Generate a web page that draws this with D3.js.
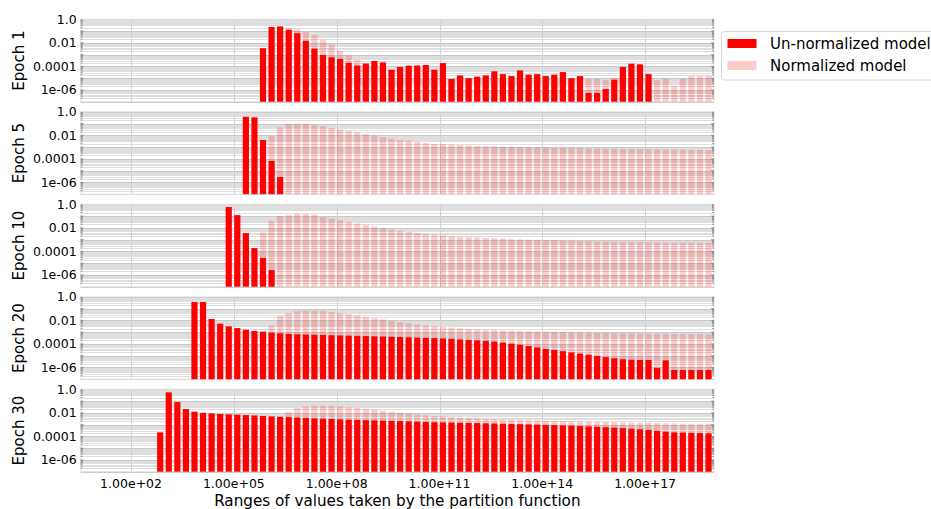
<!DOCTYPE html>
<html>
<head>
<meta charset="utf-8">
<script src="https://cdn.jsdelivr.net/npm/d3@7"></script>
<style>
  body { margin: 0; background: #fff; }
  text { font-family: "DejaVu Sans", sans-serif; fill: #000; }
</style>
</head>
<body>
<svg id="chart" width="931" height="509"></svg>
<script>
// Histogram bins: centre of bin k sits at 10^(binOrigin + k * binStep)
const binOrigin = 0.1;
const binStep = 0.25;

const panelLabels = ["Epoch 1", "Epoch 5", "Epoch 10", "Epoch 20", "Epoch 30"];
const seriesNames = ["Un-normalized model", "Normalized model"];
const xTickValues = [1e2, 1e5, 1e8, 1e11, 1e14, 1e17];
const yTickValues = [1, 1e-2, 1e-4, 1e-6];
const yTickLabels = ["1.0", "0.01", "0.0001", "1e-06"];

// first bin index of each series, per panel
const unnormStart = [23, 21, 19, 15, 11];
const normStart = [23, 24, 23, 24, 25];

// Un-normalized model: fraction of samples per bin
const unnormEpoch1 = [3.5e-3, 0.22, 0.25, 0.13, 0.065, 0.015, 3.2e-3, 9.3e-4, 5.9e-4, 4.3e-4,
  2.0e-4, 1.2e-4, 1.7e-4, 2.9e-4, 2.2e-4, 5.2e-5, 8.9e-5, 1.15e-4, 1.2e-4, 1.3e-4,
  5.2e-5, 1.9e-4, 8.5e-6, 1.7e-5, 1.0e-5, 1.35e-5, 1.7e-5, 3.8e-5, 2.2e-5, 1.5e-5,
  4.6e-5, 2.0e-5, 2.2e-5, 1.5e-5, 2.0e-5, 3.3e-5, 1.0e-5, 1.5e-5, 5.5e-7, 5.5e-7,
  1.2e-6, 7.4e-6, 8.9e-5, 1.7e-4, 1.5e-4, 2.2e-5];
const unnormEpoch5 = [0.38, 0.34, 4.0e-3, 6.6e-5, 2.9e-6];
const unnormEpoch10 = [0.59, 0.12, 3.6e-3, 1.9e-4, 2.8e-5, 2.6e-6];
const unnormEpoch20 = [0.36, 0.36, 0.013, 5.2e-3, 3.1e-3, 2.2e-3, 1.6e-3, 1.26e-3, 1.1e-3, 8.9e-4,
  7.9e-4, 6.9e-4, 6.5e-4, 6.2e-4, 6.0e-4, 5.7e-4, 5.4e-4, 5.2e-4, 5.0e-4, 4.8e-4,
  4.6e-4, 4.4e-4, 4.2e-4, 4.0e-4, 3.8e-4, 3.6e-4, 3.4e-4, 3.3e-4, 3.1e-4, 2.9e-4,
  2.7e-4, 2.4e-4, 2.2e-4, 2.0e-4, 1.8e-4, 1.6e-4, 1.3e-4, 1.05e-4, 8.5e-5, 6.5e-5,
  5.0e-5, 3.8e-5, 3.0e-5, 2.4e-5, 1.9e-5, 1.5e-5, 1.2e-5, 9.5e-6, 7.5e-6, 6.0e-6,
  5.0e-6, 4.5e-6, 4.3e-6, 4.3e-6, 9.0e-7, 4.0e-6, 6.0e-7, 6.0e-7, 6.0e-7, 6.0e-7, 6.0e-7];
const unnormEpoch30 = [2.2e-4, 0.55, 0.083, 0.021, 0.0126, 0.010, 9.0e-3, 8.0e-3, 7.5e-3, 7.0e-3,
  6.5e-3, 6.0e-3, 5.5e-3, 5.0e-3, 4.6e-3, 4.3e-3, 4.0e-3, 3.7e-3, 3.4e-3, 3.2e-3,
  3.0e-3, 2.8e-3, 2.6e-3, 2.5e-3, 2.4e-3, 2.3e-3, 2.2e-3, 2.1e-3, 2.0e-3, 1.9e-3,
  1.8e-3, 1.7e-3, 1.6e-3, 1.55e-3, 1.5e-3, 1.45e-3, 1.4e-3, 1.35e-3, 1.3e-3, 1.25e-3,
  1.2e-3, 1.15e-3, 1.1e-3, 1.05e-3, 1.0e-3, 9.5e-4, 9.0e-4, 8.5e-4, 8.0e-4, 7.5e-4,
  7.0e-4, 6.5e-4, 6.0e-4, 5.5e-4, 5.0e-4, 4.5e-4, 4.0e-4, 3.5e-4, 3.0e-4, 2.5e-4,
  2.2e-4, 2.1e-4, 2.0e-4, 1.9e-4, 1.8e-4];

// Normalized model: fraction of samples per bin
const normEpoch1 = [3.0e-3, 0.065, 0.15, 0.18, 0.14, 0.083, 0.047, 0.019, 6.9e-3, 2.1e-3,
  8.7e-4, 3.5e-4, 2.0e-4, 1.3e-4, 1.0e-4, 5.0e-5, 4.5e-5, 4.0e-5, 3.5e-5, 3.0e-5,
  2.6e-5, 2.3e-5, 8.0e-6, 9.5e-6, 9.0e-6, 8.5e-6, 8.0e-6, 8.0e-6, 8.0e-6, 8.0e-6,
  8.0e-6, 8.0e-6, 8.0e-6, 8.0e-6, 8.0e-6, 8.0e-6, 8.0e-6, 8.0e-6, 8.9e-6, 8.9e-6,
  6.9e-6, 1.0e-5, 1.0e-5, 1.0e-5, 1.0e-5, 1.0e-5, 6.9e-6, 8.9e-6, 2.3e-6, 8.5e-6,
  1.6e-5, 1.6e-5, 1.6e-5];
const normEpoch5 = [8.7e-3, 0.048, 0.091, 0.098, 0.091, 0.071, 0.059, 0.042, 0.032, 0.023,
  0.018, 0.013, 0.010, 7.2e-3, 5.2e-3, 4.0e-3, 3.5e-3, 2.7e-3, 2.2e-3, 1.9e-3,
  1.8e-3, 1.6e-3, 1.5e-3, 1.4e-3, 1.3e-3, 1.2e-3, 1.2e-3, 1.1e-3, 1.1e-3, 1.0e-3,
  1.0e-3, 9.5e-4, 9.2e-4, 9.0e-4, 8.8e-4, 8.5e-4, 8.3e-4, 8.0e-4, 7.8e-4, 7.6e-4,
  7.4e-4, 7.2e-4, 7.0e-4, 6.8e-4, 6.6e-4, 6.5e-4, 6.3e-4, 6.2e-4, 6.0e-4, 5.9e-4,
  5.8e-4, 5.7e-4];
const normEpoch10 = [4.0e-3, 0.038, 0.10, 0.12, 0.15, 0.15, 0.13, 0.083, 0.060, 0.045,
  0.032, 0.024, 0.018, 0.013, 9.5e-3, 7.0e-3, 5.5e-3, 4.5e-3, 3.6e-3, 3.0e-3,
  2.6e-3, 2.3e-3, 2.0e-3, 1.8e-3, 1.6e-3, 1.5e-3, 1.4e-3, 1.3e-3, 1.2e-3, 1.1e-3,
  1.05e-3, 1.0e-3, 9.5e-4, 9.0e-4, 8.6e-4, 8.3e-4, 8.0e-4, 7.7e-4, 7.4e-4, 7.2e-4,
  7.0e-4, 6.8e-4, 6.6e-4, 6.4e-4, 6.2e-4, 6.0e-4, 5.9e-4, 5.8e-4, 5.7e-4, 5.6e-4,
  5.5e-4, 5.4e-4, 5.3e-4];
const normEpoch20 = [3.8e-3, 0.023, 0.042, 0.06, 0.063, 0.063, 0.06, 0.05, 0.042, 0.033,
  0.026, 0.02, 0.015, 0.012, 9.0e-3, 7.0e-3, 5.6e-3, 4.5e-3, 3.7e-3, 3.1e-3,
  2.7e-3, 2.4e-3, 2.1e-3, 1.9e-3, 1.7e-3, 1.6e-3, 1.5e-3, 1.4e-3, 1.3e-3, 1.25e-3,
  1.2e-3, 1.15e-3, 1.1e-3, 1.05e-3, 1.0e-3, 9.6e-4, 9.3e-4, 9.0e-4, 8.7e-4, 8.5e-4,
  8.3e-4, 8.1e-4, 7.9e-4, 7.7e-4, 7.5e-4, 7.3e-4, 7.2e-4, 7.0e-4, 6.9e-4, 6.8e-4,
  6.7e-4, 6.6e-4];
const normEpoch30 = [3.5e-3, 0.012, 0.025, 0.035, 0.04, 0.04, 0.038, 0.035, 0.03, 0.026,
  0.022, 0.018, 0.015, 0.012, 0.010, 8.5e-3, 7.2e-3, 6.2e-3, 5.4e-3, 4.8e-3,
  4.3e-3, 3.9e-3, 3.6e-3, 3.3e-3, 3.0e-3, 2.8e-3, 2.6e-3, 2.5e-3, 2.4e-3, 2.3e-3,
  2.2e-3, 2.1e-3, 2.0e-3, 1.9e-3, 1.85e-3, 1.8e-3, 1.75e-3, 1.7e-3, 1.65e-3, 1.6e-3,
  1.55e-3, 1.5e-3, 1.45e-3, 1.4e-3, 1.35e-3, 1.3e-3, 1.25e-3, 1.2e-3, 1.2e-3, 1.2e-3,
  1.2e-3];

const unnormSeries = [unnormEpoch1, unnormEpoch5, unnormEpoch10, unnormEpoch20, unnormEpoch30];
const normSeries = [normEpoch1, normEpoch5, normEpoch10, normEpoch20, normEpoch30];

// ---- layout ----
const plotLeft = 80.7, plotRight = 714;
const firstTop = 19.3, panelPitch = 92.5, panelHeight = 82.4;
const barHalfWidth = 0.09;       // half bar width, in decades
const red = "#ff0000";

const svg = d3.select("#chart");

const x = d3.scaleLog()
  .domain([Math.pow(10, 0.53), Math.pow(10, 19.01)])
  .range([plotLeft, plotRight]);

const binCentre = k => binOrigin + k * binStep;   // log10 of the bin centre

function toBars(values, start) {
  return values.map((v, i) => ({ c: binCentre(start + i), v }));
}

function formatX(v) {
  const s = d3.format(".2e")(v);            // e.g. 1.00e+2
  return s.replace(/e([+-])(\d)$/, "e$10$2");
}

panelLabels.forEach((label, p) => {
  const top = firstTop + p * panelPitch;
  const bottom = top + panelHeight;
  const y = d3.scaleLog().domain([1e-7, 1]).range([bottom, top]);
  const g = svg.append("g");

  // horizontal grid: every minor log tick, decades a little darker
  const gridVals = [];
  for (let d = -7; d <= 0; d++) {
    for (let m = 1; m <= 9; m++) {
      const v = m * Math.pow(10, d);
      if (v >= 1e-7 && v <= 1) gridVals.push({ v, major: m === 1 });
    }
  }
  g.append("g").selectAll("line").data(gridVals).join("line")
    .attr("x1", plotLeft).attr("x2", plotRight)
    .attr("y1", d => Math.round(y(d.v)) + 0.5).attr("y2", d => Math.round(y(d.v)) + 0.5)
    .attr("stroke", d => d.major ? "#c8c8c8" : "#dedede")
    .attr("stroke-width", 1);

  // vertical grid at the x ticks
  g.append("g").selectAll("line").data(xTickValues).join("line")
    .attr("x1", d => Math.round(x(d)) + 0.5).attr("x2", d => Math.round(x(d)) + 0.5)
    .attr("y1", top).attr("y2", bottom)
    .attr("stroke", "#d2d2d2").attr("stroke-width", 1);

  // frame
  g.append("rect")
    .attr("x", plotLeft).attr("y", top)
    .attr("width", plotRight - plotLeft).attr("height", panelHeight)
    .attr("fill", "none").attr("stroke", "#e2e2e2").attr("stroke-width", 1);

  // small tick marks on the left and right spines
  const tickMarks = gridVals.filter(d => d.v > 1e-7 && d.v < 1);
  g.append("g").selectAll("line").data(tickMarks).join("line")
    .attr("x1", plotLeft).attr("x2", d => plotLeft + (d.major ? 3 : 2))
    .attr("y1", d => y(d.v)).attr("y2", d => y(d.v))
    .attr("stroke", "#888").attr("stroke-width", 0.8);
  g.append("g").selectAll("line").data(tickMarks).join("line")
    .attr("x1", plotRight).attr("x2", d => plotRight - (d.major ? 3 : 2))
    .attr("y1", d => y(d.v)).attr("y2", d => y(d.v))
    .attr("stroke", "#888").attr("stroke-width", 0.8);

  const barRect = sel => sel
    .attr("x", d => x(Math.pow(10, d.c - barHalfWidth)))
    .attr("width", d => x(Math.pow(10, d.c + barHalfWidth)) - x(Math.pow(10, d.c - barHalfWidth)))
    .attr("y", d => y(d.v))
    .attr("height", d => bottom - y(d.v));

  // un-normalized model (solid red)
  g.append("g").selectAll("rect").data(toBars(unnormSeries[p], unnormStart[p])).join("rect")
    .call(barRect).attr("fill", red);

  // normalized model (translucent red)
  g.append("g").selectAll("rect").data(toBars(normSeries[p], normStart[p])).join("rect")
    .call(barRect).attr("fill", red).attr("fill-opacity", 0.2);

  // y tick labels
  g.append("g").selectAll("text").data(yTickValues).join("text")
    .attr("x", plotLeft - 4).attr("y", d => y(d))
    .attr("dy", "0.36em").attr("text-anchor", "end")
    .style("font-size", "12.5px")
    .text((d, i) => yTickLabels[i]);

  // panel label
  g.append("text")
    .attr("transform", `translate(23.5,${(top + bottom) / 2}) rotate(-90)`)
    .attr("text-anchor", "middle")
    .style("font-size", "15px")
    .text(label);
});

// x axis labels under the last panel
const lastBottom = firstTop + 4 * panelPitch + panelHeight;
svg.append("g").selectAll("text").data(xTickValues).join("text")
  .attr("x", d => x(d)).attr("y", lastBottom + 16)
  .attr("text-anchor", "middle")
  .style("font-size", "12.5px")
  .text(formatX);

svg.append("text")
  .attr("x", (plotLeft + plotRight) / 2).attr("y", 506)
  .attr("text-anchor", "middle")
  .style("font-size", "15.2px")
  .text("Ranges of values taken by the partition function");

// legend
const legend = svg.append("g");
legend.append("rect")
  .attr("x", 721.5).attr("y", 31.5).attr("width", 230).attr("height", 48.5)
  .attr("rx", 3).attr("fill", "#fff").attr("stroke", "#d8d8d8");
seriesNames.forEach((name, i) => {
  legend.append("rect")
    .attr("x", 727.5).attr("y", 39 + i * 22).attr("width", 29).attr("height", 9)
    .attr("fill", red).attr("fill-opacity", i === 0 ? 1 : 0.2);
  legend.append("text")
    .attr("x", 770).attr("y", 49 + i * 22)
    .style("font-size", "15px")
    .text(name);
});
</script>
</body>
</html>
